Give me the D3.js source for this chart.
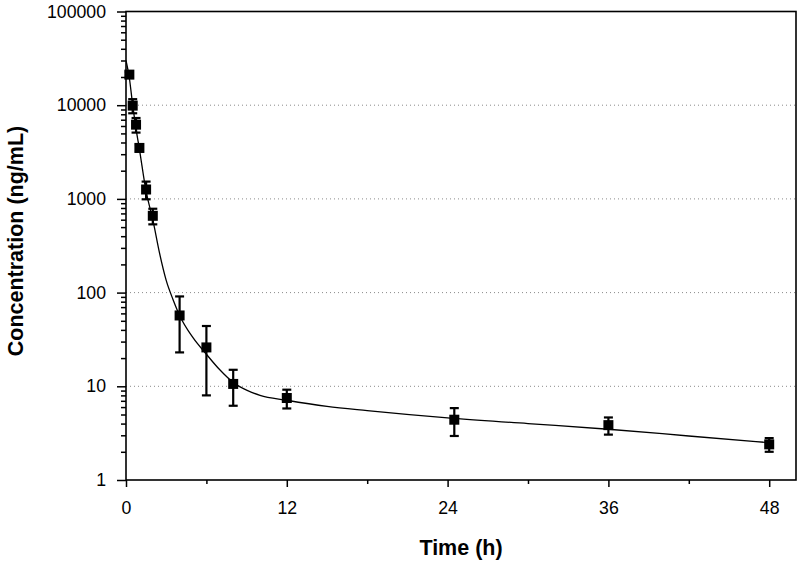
<!DOCTYPE html>
<html>
<head>
<meta charset="utf-8">
<script src="https://cdn.jsdelivr.net/npm/d3@7"></script>
<style>
  html, body { margin: 0; padding: 0; background: #fff; }
  svg { display: block; font-family: "Liberation Sans", Arial, sans-serif; }
</style>
</head>
<body>
<svg id="chart" width="800" height="562"></svg>
<script>
// ---- data ----
const times = [0.25, 0.5, 0.75, 1, 1.5, 2, 4, 6, 8, 12, 24.5, 36, 48];
const meanConc = [21200, 9900, 6200, 3500, 1260, 660, 57, 26, 10.6, 7.5, 4.4, 3.85, 2.4];
const sdConc = [1500, 1700, 1100, 300, 270, 125, 34, 18, 4.4, 1.7, 1.45, 0.8, 0.4];

// fitted curve
const fitTimes = [0, 0.25, 0.5, 0.75, 1, 1.5, 2, 2.5, 3, 3.5, 4, 5, 6, 7, 8, 9, 10, 12, 15, 18, 24, 30, 36, 42, 48];
const fitConc = [30000, 19500, 10000, 5600, 3400, 1200, 600, 265, 135, 85, 57, 33, 22, 15, 11, 9.1, 8.0, 7.1, 6.1, 5.5, 4.6, 4.0, 3.48, 2.95, 2.5];

const xTickValues = [0, 12, 24, 36, 48];
const xMinorTicks = [6, 18, 30, 42];
const yTickValues = [1, 10, 100, 1000, 10000, 100000];
const yTickLabels = ["1", "10", "100", "1000", "10000", "100000"];
const gridValues = [10, 100, 1000, 10000];
const xTitle = "Time (h)";
const yTitle = "Concentration (ng/mL)";

(function () {
// ---- layout ----
const pLeft = 126, pRight = 796, pTop = 11.5, pBottom = 480;
const svg = d3.select("#chart");

const x = d3.scaleLinear().domain([0, 50]).range([pLeft, pRight]);
const y = d3.scaleLog().domain([1, 100000]).range([pBottom, pTop]);

const yMinor = [];
for (let d = 1; d < 100000; d *= 10) for (let k = 2; k <= 9; k++) yMinor.push(d * k);

// gridlines
svg.append("g").selectAll("line").data(gridValues).join("line")
  .attr("x1", pLeft).attr("x2", pRight)
  .attr("y1", d => y(d)).attr("y2", d => y(d))
  .attr("stroke", "#8a8a8a").attr("stroke-width", 1)
  .attr("stroke-dasharray", "1,3");

// axes
const yAxis = svg.append("g").attr("transform", `translate(${pLeft},0)`)
  .call(d3.axisLeft(y).tickValues(yTickValues).tickSize(9).tickPadding(11)
    .tickFormat((d, i) => yTickLabels[i]));
const yAxisMinor = svg.append("g").attr("transform", `translate(${pLeft},0)`)
  .call(d3.axisLeft(y).tickValues(yMinor).tickSize(5).tickFormat(""));
const xAxis = svg.append("g").attr("transform", `translate(0,${pBottom})`)
  .call(d3.axisBottom(x).tickValues(xTickValues).tickSize(7).tickPadding(14)
    .tickFormat(d3.format("d")));
const xAxisMinor = svg.append("g").attr("transform", `translate(0,${pBottom})`)
  .call(d3.axisBottom(x).tickValues(xMinorTicks).tickSize(4).tickFormat(""));

[yAxis, yAxisMinor, xAxis, xAxisMinor].forEach(g => {
  g.select(".domain").remove();
  g.selectAll("line").attr("stroke", "#000").attr("stroke-width", 1.5);
  g.selectAll("text").attr("font-size", 17.7).attr("fill", "#000")
    .attr("font-family", "'Liberation Sans', Arial, sans-serif");
});

// frame
svg.append("rect").attr("x", pLeft).attr("y", pTop)
  .attr("width", pRight - pLeft).attr("height", pBottom - pTop)
  .attr("fill", "none").attr("stroke", "#000").attr("stroke-width", 1.6);

// clip
svg.append("clipPath").attr("id", "clip").append("rect")
  .attr("x", pLeft).attr("y", pTop).attr("width", pRight - pLeft).attr("height", pBottom - pTop);

// fitted curve
const fitData = fitTimes.map((t, i) => [t, fitConc[i]]);
svg.append("path").datum(fitData)
  .attr("clip-path", "url(#clip)")
  .attr("fill", "none").attr("stroke", "#000").attr("stroke-width", 1.3)
  .attr("d", d3.line().x(d => x(d[0])).y(d => y(d[1])).curve(d3.curveMonotoneX));

// error bars
const pts = times.map((t, i) => ({ t, m: meanConc[i], s: sdConc[i] }));
const eb = svg.append("g").attr("stroke", "#000").attr("stroke-width", 2.2);
eb.selectAll("line.v").data(pts).join("line").attr("class", "v")
  .attr("x1", d => x(d.t)).attr("x2", d => x(d.t))
  .attr("y1", d => y(d.m + d.s)).attr("y2", d => y(Math.max(d.m - d.s, 1)));
eb.selectAll("line.u").data(pts).join("line").attr("class", "u")
  .attr("x1", d => x(d.t) - 4.5).attr("x2", d => x(d.t) + 4.5)
  .attr("y1", d => y(d.m + d.s)).attr("y2", d => y(d.m + d.s));
eb.selectAll("line.l").data(pts).join("line").attr("class", "l")
  .attr("x1", d => x(d.t) - 4.5).attr("x2", d => x(d.t) + 4.5)
  .attr("y1", d => y(d.m - d.s)).attr("y2", d => y(d.m - d.s));

// markers
svg.append("g").selectAll("rect").data(pts).join("rect")
  .attr("x", d => x(d.t) - 5).attr("y", d => y(d.m) - 5)
  .attr("width", 10).attr("height", 10).attr("fill", "#000");

// titles
svg.append("text").attr("x", (pLeft + pRight) / 2).attr("y", 555)
  .attr("text-anchor", "middle").attr("font-size", 21.5).attr("font-weight", "bold")
  .text(xTitle);
svg.append("text").attr("transform", "translate(23,241) rotate(-90)")
  .attr("text-anchor", "middle").attr("font-size", 21.5).attr("font-weight", "bold")
  .text(yTitle);
})();
</script>
</body>
</html>
